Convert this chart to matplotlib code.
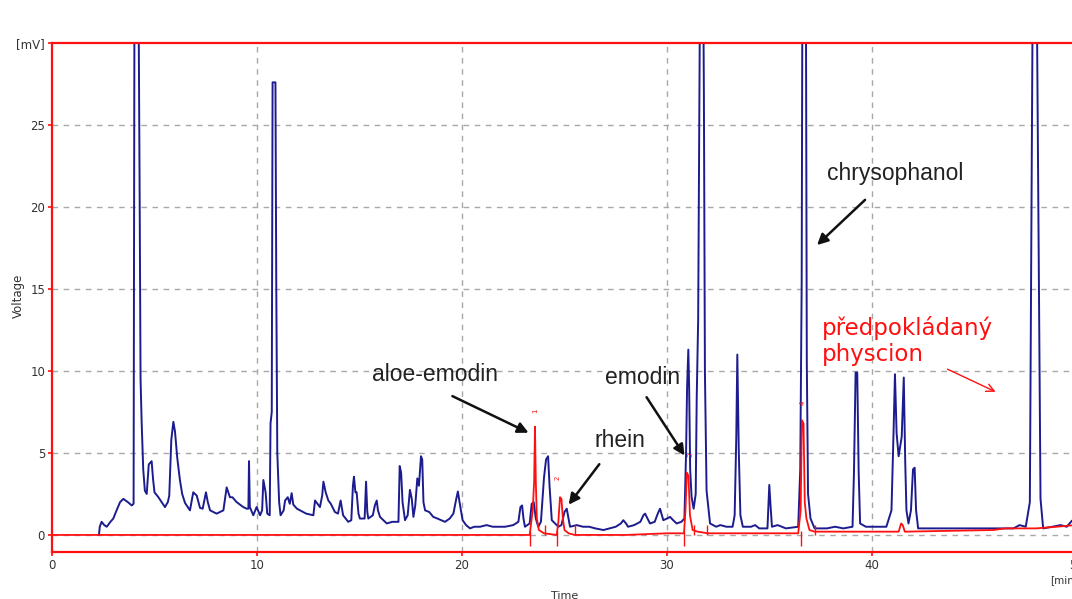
import matplotlib.pyplot as plt

BLUE = "#1c1c8e"
RED = "#ff1010"
GRID = "#a8a8a8"

# detector 1 trace (blue), time [min] / signal [mV]; off-scale peaks clip at 30
blue_t = [2.29, 2.33, 2.42, 2.55, 2.67, 2.85, 2.99, 3.15, 3.32, 3.48, 3.70, 3.89, 3.98,
          4.02, 4.23, 4.27, 4.32, 4.37, 4.45, 4.53, 4.62, 4.72, 4.86, 4.93, 5.00, 5.19,
          5.35, 5.51, 5.65, 5.72, 5.82, 5.92, 6.00, 6.11, 6.24, 6.35, 6.49, 6.73, 6.89,
          7.06, 7.22, 7.35, 7.51, 7.60, 7.71, 8.03, 8.36, 8.52, 8.68, 8.80, 9.01, 9.33,
          9.50, 9.58, 9.61, 9.65, 9.82, 9.98, 10.15, 10.25, 10.31, 10.42, 10.50, 10.62,
          10.66, 10.72, 10.76, 10.90, 10.94, 10.99, 11.08, 11.15, 11.30, 11.37, 11.50,
          11.60, 11.69, 11.77, 11.95, 12.10, 12.40, 12.75, 12.83, 12.95, 13.07, 13.18,
          13.24, 13.35, 13.48, 13.60, 13.80, 13.95, 14.08, 14.20, 14.45, 14.60, 14.68,
          14.73, 14.80, 14.86, 14.95, 15.02, 15.25, 15.32, 15.38, 15.43, 15.65, 15.75,
          15.84, 15.90, 16.00, 16.33, 16.60, 16.90, 16.96, 17.03, 17.10, 17.22, 17.35,
          17.46, 17.55, 17.63, 17.72, 17.82, 17.90, 18.00, 18.06, 18.12, 18.20, 18.40,
          18.60, 18.80, 19.17, 19.40, 19.58, 19.72, 19.80, 19.88, 20.03, 20.20, 20.39,
          20.60, 20.88, 21.20, 21.50, 21.80, 22.10, 22.50, 22.75, 22.85, 22.93, 23.00,
          23.07, 23.30, 23.40, 23.50, 23.60, 23.72, 23.85, 24.00, 24.10, 24.20, 24.27,
          24.38, 24.70, 24.85, 25.00, 25.11, 25.20, 25.27, 25.60, 25.90, 26.20, 26.50,
          26.90, 27.20, 27.50, 27.75, 27.87, 28.00, 28.10, 28.40, 28.70, 28.85, 28.93,
          29.05, 29.17, 29.40, 29.55, 29.66, 29.75, 29.82, 30.00, 30.15, 30.30, 30.47,
          30.70, 30.85, 30.93, 30.98, 31.04, 31.08, 31.13, 31.20, 31.30, 31.40, 31.45,
          31.52, 31.60, 31.78, 31.80, 31.85, 31.93, 32.10, 32.40, 32.60, 32.90, 33.20,
          33.30, 33.38, 33.43, 33.50, 33.58, 33.70, 34.10, 34.30, 34.50, 34.90, 34.95,
          34.99, 35.05, 35.12, 35.40, 35.80, 36.40, 36.50, 36.57, 36.60, 36.78, 36.82,
          36.88, 37.00, 37.20, 37.80, 38.20, 38.60, 39.05, 39.12, 39.20, 39.28, 39.35,
          39.42, 39.70, 40.20, 40.70, 40.95, 41.05, 41.12, 41.20, 41.30, 41.45, 41.55,
          41.62, 41.68, 41.78, 41.90, 42.00, 42.08, 42.15, 42.25, 43.00, 44.00, 45.00,
          46.00, 46.90, 47.20, 47.50, 47.70, 47.78, 47.83, 48.05, 48.10, 48.15, 48.22,
          48.35, 48.80, 49.20, 49.50, 49.74, 49.90]
blue_v = [0.0, 0.5, 0.8, 0.6, 0.5, 0.8, 1.0, 1.5, 2.0, 2.2, 2.0, 1.8, 1.9,
          31.0, 31.0, 22.0, 9.5, 7.0, 4.0, 2.7, 2.5, 4.3, 4.5, 3.4, 2.6, 2.3,
          2.0, 1.7, 2.0, 2.4, 5.8, 6.9, 6.3, 4.7, 3.35, 2.5, 1.95, 1.5, 2.6,
          2.4, 1.65, 1.6, 2.6, 2.0, 1.5, 1.3, 1.5, 2.9, 2.3, 2.3, 2.0, 1.7,
          1.6, 1.6, 4.5, 1.7, 1.2, 1.7, 1.2, 1.5, 3.35, 2.6, 1.3, 1.2,
          6.8, 7.5, 27.6, 27.6, 15.3, 5.0, 2.0, 1.2, 1.5, 2.1, 2.3,
          1.9, 2.55, 1.85, 1.6, 1.5, 1.3, 1.2, 2.1, 1.9, 1.7, 2.4,
          3.25, 2.6, 2.1, 1.9, 1.4, 1.3, 2.1, 1.2, 0.8, 0.9, 3.0,
          3.55, 2.6, 2.6, 1.3, 1.0, 1.0, 3.25, 1.4, 1.0, 1.2, 1.8,
          2.1, 1.5, 1.1, 0.7, 0.8, 0.8, 4.2, 3.8, 2.0, 0.9, 1.2,
          2.75, 2.2, 1.1, 1.8, 3.45, 3.0, 4.8, 4.6, 2.0, 1.5, 1.4,
          1.1, 1.0, 0.8, 1.0, 1.3, 2.2, 2.65, 2.0, 0.9, 0.6, 0.4,
          0.5, 0.5, 0.6, 0.5, 0.5, 0.5, 0.6, 0.8, 1.7, 1.8, 1.0,
          0.5, 0.7, 1.9, 2.0, 1.0, 0.5, 0.8, 3.5, 4.6, 4.8, 3.0,
          0.9, 0.5, 0.6, 1.4, 1.6, 1.0, 0.5, 0.6, 0.5, 0.5, 0.4,
          0.3, 0.4, 0.5, 0.7, 0.9, 0.7, 0.5, 0.6, 0.8, 1.2, 1.3,
          1.0, 0.7, 0.8, 1.3, 1.6, 1.2, 0.9, 1.0, 1.1, 0.9, 0.7,
          0.8, 1.0, 5.0, 9.0, 11.3, 9.0, 4.0, 2.3, 1.6, 2.5, 8.4,
          13.1, 31.0, 31.0, 26.7, 9.9, 2.7, 0.7, 0.5, 0.6, 0.5, 0.5,
          1.2, 6.0, 11.0, 5.2, 1.2, 0.5, 0.5, 0.6, 0.4, 0.4, 1.8,
          3.05, 1.8, 0.5, 0.6, 0.4, 0.5, 4.0, 15.4, 31.0, 31.0, 10.5,
          2.5, 1.0, 0.4, 0.4, 0.5, 0.4, 0.5, 3.8, 9.9, 9.9, 3.8,
          0.7, 0.5, 0.5, 0.5, 1.5, 6.2, 9.8, 6.2, 4.8, 6.0, 9.6,
          4.5, 1.5, 0.7, 1.5, 4.0, 4.1, 1.5, 0.4, 0.4, 0.4, 0.4,
          0.4, 0.4, 0.6, 0.5, 2.0, 20.2, 31.0, 31.0, 22.9, 14.0, 2.2,
          0.4, 0.5, 0.6, 0.5, 0.85, 1.0]

# detector 2 trace (red)
red_t = [0.0, 23.30, 23.45, 23.52, 23.56, 23.60, 23.65, 23.75, 24.00, 24.62, 24.70,
         24.78, 24.85, 24.92, 25.00, 25.20, 25.50, 28.00, 30.00, 30.83, 30.90, 30.97,
         31.05, 31.12, 31.25, 31.50, 32.00, 36.40, 36.52, 36.58, 36.66, 36.72, 36.80,
         36.95, 37.20, 41.30, 41.42, 41.50, 41.60, 45.90, 46.50, 48.00, 49.00, 49.90]
red_v = [0.0, 0.0, 1.5, 3.3, 6.6, 3.3, 1.0, 0.3, 0.1, 0.0, 0.8,
         2.3, 2.2, 1.0, 0.3, 0.1, 0.0, 0.0, 0.1, 0.1, 1.5, 3.8,
         3.6, 1.2, 0.3, 0.2, 0.1, 0.1, 1.5, 7.0, 6.8, 2.0, 1.0,
         0.3, 0.2, 0.2, 0.7, 0.6, 0.2, 0.3, 0.4, 0.4, 0.5, 0.6]

# integration markers and peak numbers on the red trace
peak_starts = [23.30, 24.62, 30.83, 36.52]
peak_ends = [24.05, 25.50, 31.30, 31.93, 37.20]
peak_numbers = ["1", "2", "3", "4"]
number_t = [23.56, 24.68, 31.12, 36.63]
number_v = [7.6, 3.5, 4.9, 8.05]

x_ticks = [0, 10, 20, 30, 40, 50]
y_ticks = [0, 5, 10, 15, 20, 25, 30]
y_ticklabels = ["0", "5", "10", "15", "20", "25", "[mV]"]

fig = plt.figure(figsize=(10.72, 5.99), dpi=100)
ax = fig.add_axes([52 / 1072, 47 / 599, 1066 / 1072, 509 / 599])
ax.set_xlim(0, 52)
ax.set_ylim(-1.04, 30)

for x in [10, 20, 30, 40]:
    ax.axvline(x, color=GRID, lw=1.0, ls=(0, (4, 4)), zorder=0)
for y in [0, 5, 10, 15, 20, 25]:
    ax.axhline(y, color=GRID, lw=1.0, ls=(0, (4, 4)), zorder=0)

ax.plot(blue_t, blue_v, color=BLUE, lw=1.4, zorder=2)
ax.plot(red_t, red_v, color=RED, lw=1.3, zorder=3)
ax.vlines(peak_starts, -0.7, 0.25, color=RED, lw=1.0, zorder=3)
ax.vlines(peak_ends, 0.0, 0.6, color=RED, lw=1.0, zorder=3)
for lab, t, v in zip(peak_numbers, number_t, number_v):
    ax.text(t, v, lab, color=RED, fontsize=5, rotation=90, ha="center", va="center")

for side in ["left", "top", "bottom", "right"]:
    ax.spines[side].set_color(RED)
    ax.spines[side].set_linewidth(1.6)

ax.set_xticks(x_ticks)
ax.set_yticks(y_ticks)
ax.set_yticklabels(y_ticklabels)
ax.tick_params(colors=RED, labelcolor="#333333", labelsize=8.5, length=3, width=1.2, pad=2)

fig.text(18 / 1072, 1 - 296 / 599, "Voltage", rotation=90, fontsize=8.5,
         color="#333333", ha="center", va="center")
fig.text(565 / 1072, 1 - 596 / 599, "Time", fontsize=8, color="#333333",
         ha="center", va="center")
fig.text(1050 / 1072, 1 - 580 / 599, "[min.]", fontsize=7.5, color="#333333",
         ha="left", va="center")

arrow_kw = dict(arrowstyle="-|>", color="#111111", lw=1.8, mutation_scale=16)
label_kw = dict(fontsize=16.5, family="Liberation Sans", color="#222222",
                ha="center", va="center")
ax.annotate("", xy=(23.37, 6.16), xytext=(19.41, 8.54), arrowprops=arrow_kw)
ax.text(18.68, 9.76, "aloe-emodin", **label_kw)
ax.annotate("", xy=(25.12, 1.71), xytext=(26.78, 4.45), arrowprops=arrow_kw)
ax.text(27.71, 5.73, "rhein", **label_kw)
ax.annotate("", xy=(30.93, 4.70), xytext=(28.93, 8.54), arrowprops=arrow_kw)
ax.text(28.83, 9.63, "emodin", **label_kw)
ax.annotate("", xy=(37.22, 17.56), xytext=(39.76, 20.55), arrowprops=arrow_kw)
ax.text(41.12, 22.07, "chrysophanol", **label_kw)

ax.text(37.56, 11.83, "předpokládaný\nphyscion", fontsize=16.5, color=RED,
        ha="left", va="center", linespacing=1.15)
ax.annotate("", xy=(46.15, 8.66), xytext=(43.56, 10.18),
            arrowprops=dict(arrowstyle="->", color=RED, lw=1.0, mutation_scale=14))

fig.savefig("out.png", dpi=100)
